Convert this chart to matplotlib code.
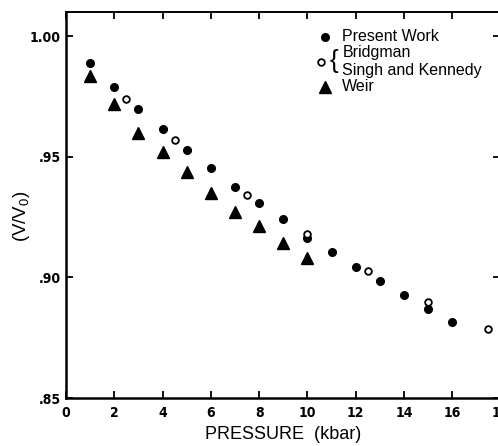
import matplotlib
matplotlib.use("Agg")
import matplotlib.pyplot as plt

# Relative volume vs pressure
p_present = [1, 2, 3, 4, 5, 6, 7, 8, 9, 10, 11, 12, 13, 14, 15, 16]
v_present = [0.989, 0.979, 0.970, 0.9615, 0.953, 0.9453, 0.9376, 0.931, 0.924,
             0.9164, 0.9105, 0.9043, 0.8983, 0.8926, 0.887, 0.8814]

p_bridg = [2.5, 4.5, 7.5, 10, 12.5, 15, 17.5]
v_bridg = [0.974, 0.957, 0.934, 0.9178, 0.9028, 0.8896, 0.8788]

p_weir = [1, 2, 3, 4, 5, 6, 7, 8, 9, 10]
v_weir = [0.9833, 0.9717, 0.960, 0.9518, 0.9435, 0.9351, 0.9272, 0.9211, 0.9142, 0.908]

xticks = [0, 2, 4, 6, 8, 10, 12, 14, 16, 18]
yticks = [0.85, 0.90, 0.95, 1.00]
ytick_labels = ['.85', '.90', '.95', '1.00']

sans = ['Liberation Sans', 'DejaVu Sans']

fig = plt.figure(figsize=(4.98, 4.46), dpi=100)
ax = fig.add_axes([0.1325, 0.1076, 0.8725, 0.8655])

ax.plot(p_present, v_present, 'o', color='black', ms=5.5, ls='none')
ax.plot(p_bridg, v_bridg, 'o', mfc='white', mec='black', mew=1.3, ms=4.8, ls='none')
ax.plot(p_weir, v_weir, '^', color='black', ms=8, ls='none')

ax.set_xlim(0, 18)
ax.set_ylim(0.85, 1.01)
tick_font = dict(family='DejaVu Sans', fontstretch='condensed', fontweight='bold', fontsize=10)
ax.set_xticks(xticks)
ax.set_xticklabels([str(t) for t in xticks], **tick_font)
ax.set_yticks(yticks)
ax.set_yticklabels(ytick_labels, **tick_font)
ax.tick_params(direction='in', length=5, width=1.3, top=True, right=True, pad=4)
ax.tick_params(axis='x', pad=6)

ax.spines['left'].set_linewidth(1.8)
ax.spines['bottom'].set_linewidth(1.8)
ax.spines['top'].set_linewidth(1.4)
ax.spines['right'].set_visible(False)

ax.set_xlabel('PRESSURE  (kbar)', family=sans, fontsize=13, labelpad=4)
ax.set_ylabel(r'(V/V$_\mathregular{0}$)', family=sans, fontsize=13.5)
ax.yaxis.set_label_coords(-0.078, 0.47)

# hand-made key in the upper right
tr = ax.transAxes
ax.plot([0.597], [0.936], 'o', color='black', ms=5.5, transform=tr, clip_on=False)
ax.plot([0.588], [0.871], 'o', mfc='white', mec='black', mew=1.3, ms=4.8, transform=tr, clip_on=False)
ax.plot([0.597], [0.806], '^', color='black', ms=8, transform=tr, clip_on=False)
ax.text(0.636, 0.936, 'Present Work', transform=tr, family=sans, fontsize=11.5, va='center')
ax.text(0.607, 0.873, '{', transform=tr, family=sans, fontsize=19, va='center')
ax.text(0.636, 0.895, 'Bridgman', transform=tr, family=sans, fontsize=11.5, va='center')
ax.text(0.636, 0.849, 'Singh and Kennedy', transform=tr, family=sans, fontsize=11.5, va='center')
ax.text(0.636, 0.806, 'Weir', transform=tr, family=sans, fontsize=11.5, va='center')

fig.savefig('out.png', dpi=100)
